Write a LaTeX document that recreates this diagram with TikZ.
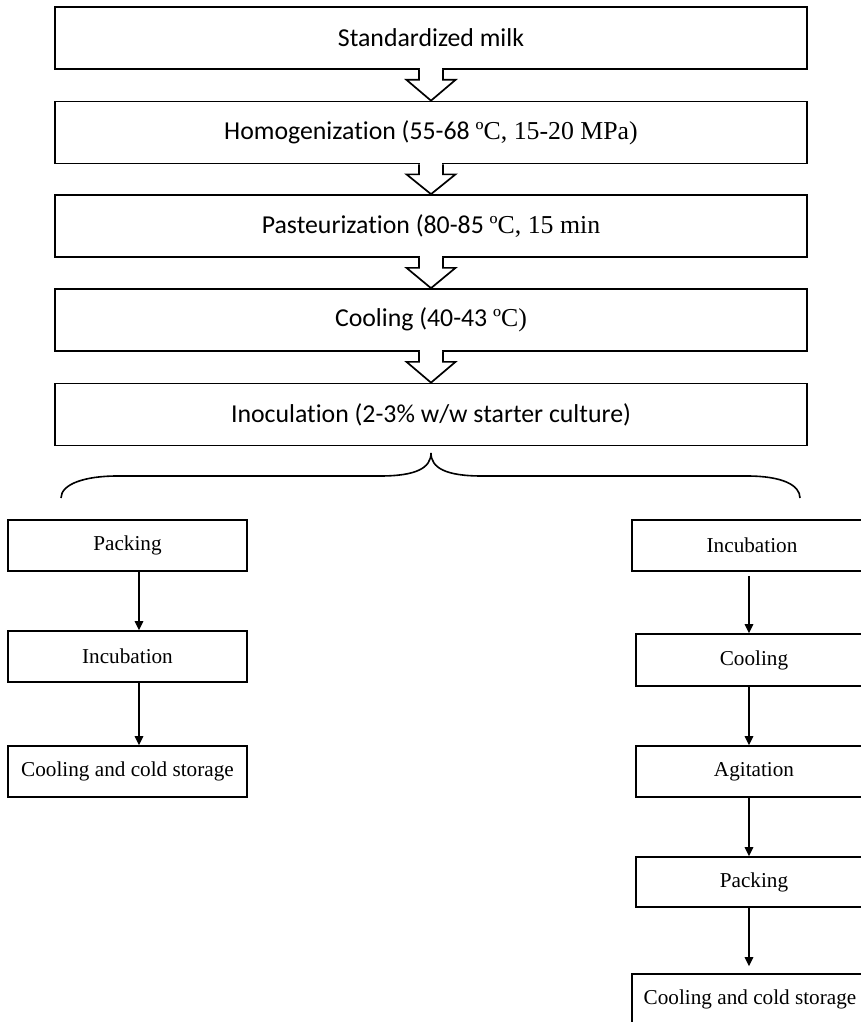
\documentclass[tikz,border=0pt]{standalone}
\usepackage{fontspec}
\setmainfont{Liberation Serif}
\newfontfamily\calibfont{Carlito}[Ligatures=NoCommon]
\usetikzlibrary{arrows.meta}

\begin{document}
\begin{tikzpicture}[x=1pt,y=-1pt,
		topbox/.style={draw,line width=1.7pt,minimum width=752pt,minimum height=62pt,inner sep=0pt,font=\calibfont\fontsize{25.8}{30}\selectfont},
		smallbox/.style={draw,line width=1.6pt,minimum width=239pt,minimum height=51pt,inner sep=0pt,font=\fontsize{21.2}{25}\selectfont},
		flow/.style={line width=1.3pt,-{Triangle[length=9pt,width=8.5pt]}}]
			\useasboundingbox (0,0) rectangle (861,1022);
			\clip (0,0) rectangle (861,1022);
			\node[topbox] (milk) at (431,38) {Standardized milk};
			\node[topbox] (homog) at (431,132.5) {Homogenization (55-68 {\rmfamily ºC, 15-20 MPa)}};
			\node[topbox] (past) at (431,226) {Pasteurization (80-85 {\rmfamily ºC, 15 min}};
			\node[topbox] (cool) at (431,320) {Cooling (40-43 {\rmfamily ºC)}};
			\node[topbox] (inoc) at (431,414.5) {Inoculation (2-3\% w/w starter culture)};
			\foreach \a/\b in {milk/homog,homog/past,past/cool,cool/inoc}{
				\fill[white] ([xshift=-11.2pt,yshift=2pt]\a.south) rectangle ([xshift=11.2pt,yshift=-2pt]\a.south);
				\draw[line width=1.7pt,fill=white] ([xshift=-12pt]\a.south) -- ([xshift=-12pt,yshift=-10pt]\a.south) -- ([xshift=-24.5pt,yshift=-10pt]\a.south) -- (\b.north) -- ([xshift=24.5pt,yshift=-10pt]\a.south) -- ([xshift=12pt,yshift=-10pt]\a.south) -- ([xshift=12pt]\a.south);
			}
			\draw[line width=1.6pt] (61,498) .. controls (61,484) and (85,476) .. (117,476) -- (380,476) .. controls (416,476) and (431,468) .. (431,453) .. controls (431,468) and (446,476) .. (482,476) -- (747,476) .. controls (782,476) and (800,485) .. (800,498);
			\node[smallbox] (lpack) at (127.5,545.5) {Packing};
			\node[smallbox] (linc) at (127.5,656.5) {Incubation};
			\node[smallbox] (lcold) at (127.5,771.5) {Cooling and cold storage};
			\draw[flow] ([xshift=11.5pt]lpack.south) -- ([xshift=11.5pt]linc.north);
			\draw[flow] ([xshift=11.5pt]linc.south) -- ([xshift=11.5pt]lcold.north);
			\node[smallbox,minimum width=240pt] (rinc) at (752,545.5) {Incubation};
			\node[smallbox,minimum width=236pt,minimum height=52pt] (rcool) at (754,660) {Cooling};
			\node[smallbox,minimum width=236pt] (ragit) at (754,771.5) {Agitation};
			\node[smallbox,minimum width=236pt,minimum height=50pt] (rpack) at (754,882) {Packing};
			\node[smallbox,minimum width=236pt] (rcold) at (750,999.5) {Cooling and cold storage};
			\draw[flow] ([xshift=-3pt,yshift=-4pt]rinc.south) -- ([xshift=-5pt]rcool.north);
			\draw[flow] ([xshift=-5pt]rcool.south) -- ([xshift=-5pt]ragit.north);
			\draw[flow] ([xshift=-5pt]ragit.south) -- ([xshift=-5pt]rpack.north);
			\draw[flow] ([xshift=-5pt]rpack.south) -- ([xshift=-1pt,yshift=7pt]rcold.north);
		\end{tikzpicture}
\end{document}
